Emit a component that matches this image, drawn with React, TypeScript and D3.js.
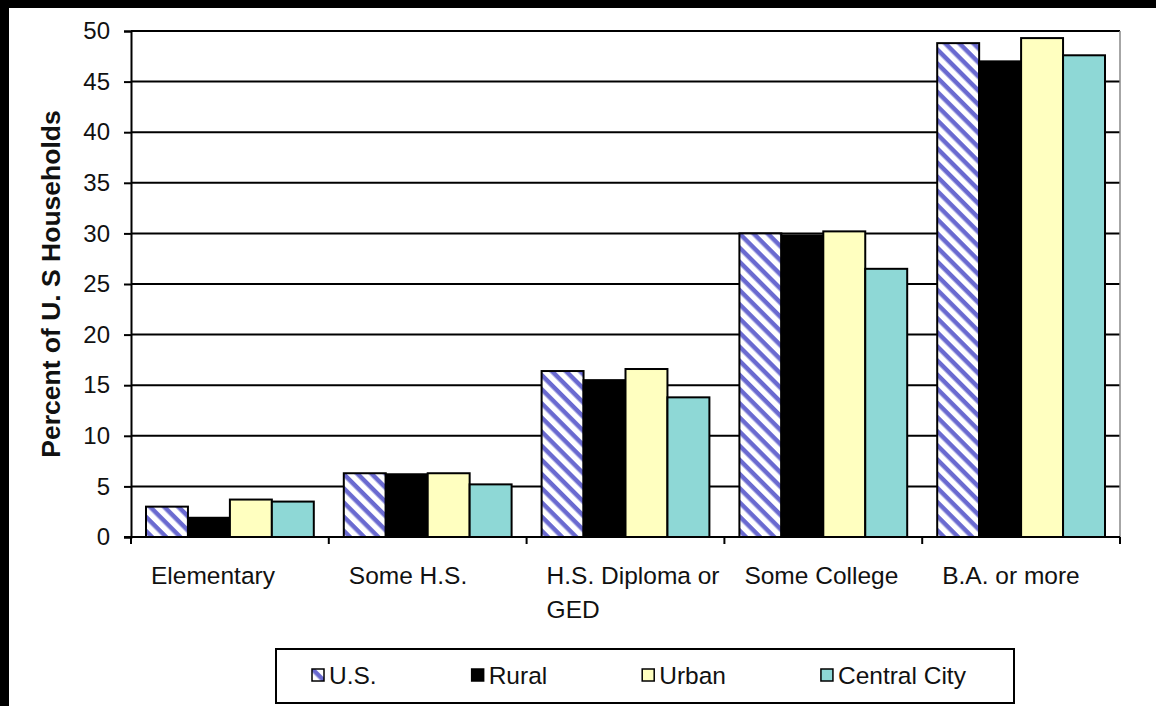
import { useEffect, useRef } from 'react'
import * as d3 from 'd3'

const categories = ['Elementary', 'Some H.S.', 'H.S. Diploma or GED', 'Some College', 'B.A. or more']
const categoryLines = [['Elementary'], ['Some H.S.'], ['H.S. Diploma or', 'GED'], ['Some College'], ['B.A. or more']]
const seriesNames = ['U.S.', 'Rural', 'Urban', 'Central City']
const usValues = [3.0, 6.3, 16.4, 30.0, 48.8]
const ruralValues = [1.9, 6.2, 15.5, 29.8, 47.0]
const urbanValues = [3.7, 6.3, 16.6, 30.2, 49.3]
const centralCityValues = [3.5, 5.2, 13.8, 26.5, 47.6]
const yTicks = [0, 5, 10, 15, 20, 25, 30, 35, 40, 45, 50]

const W = 1156
const H = 706
const FONT = '"Liberation Sans", Arial, sans-serif'

export default function App() {
  const svgRef = useRef<SVGSVGElement>(null)

  useEffect(() => {
    if (!svgRef.current) return
    const svg = d3.select(svgRef.current)
    svg.selectAll('*').remove()

    const seriesValues = [usValues, ruralValues, urbanValues, centralCityValues]
    const fills = ['url(#usHatch)', '#000000', '#ffffc0', '#8ed8d6']

    // frame: white page with black band on top and left
    svg.append('rect').attr('width', W).attr('height', H).attr('fill', '#fff')
    svg.append('rect').attr('width', W).attr('height', 8).attr('fill', '#000')
    svg.append('rect').attr('width', 9).attr('height', H).attr('fill', '#000')

    const defs = svg.append('defs')
    const pat = defs.append('pattern')
      .attr('id', 'usHatch')
      .attr('patternUnits', 'userSpaceOnUse')
      .attr('width', 10).attr('height', 10)
      .attr('patternTransform', 'rotate(45)')
    pat.append('rect').attr('width', 10).attr('height', 10).attr('fill', '#fff')
    pat.append('rect').attr('width', 10).attr('height', 4.5).attr('fill', '#6a6ad0')

    const left = 131, right = 1120, top = 31, bottom = 537
    const x = d3.scaleBand<string>().domain(categories).range([left, right]).padding(0)
    const inner = d3.scaleBand<string>().domain(seriesNames)
      .range([15, x.bandwidth() - 15]).padding(0)
    const y = d3.scaleLinear().domain([0, 50]).range([bottom, top])

    // gridlines
    svg.append('g').selectAll('line').data(yTicks.filter(t => t > 0)).join('line')
      .attr('x1', left).attr('x2', right)
      .attr('y1', d => y(d)).attr('y2', d => y(d))
      .attr('stroke', '#000').attr('stroke-width', 2)

    // plot border (right side)
    svg.append('line').attr('x1', right).attr('x2', right).attr('y1', top).attr('y2', bottom)
      .attr('stroke', '#888').attr('stroke-width', 1.5)

    // bars
    seriesNames.forEach((s, si) => {
      svg.append('g').selectAll('rect').data(seriesValues[si]).join('rect')
        .attr('x', (_, i) => x(categories[i])! + inner(s)!)
        .attr('y', d => y(d))
        .attr('width', inner.bandwidth())
        .attr('height', d => bottom - y(d))
        .attr('fill', fills[si])
        .attr('stroke', '#000').attr('stroke-width', 2)
    })

    // y axis
    const yAxis = svg.append('g').attr('transform', `translate(${left},0)`)
      .call(d3.axisLeft(y).tickValues(yTicks).tickSize(7).tickPadding(14))
    yAxis.select('.domain').attr('stroke', '#000').attr('stroke-width', 2)
    yAxis.selectAll('.tick line').attr('stroke', '#000').attr('stroke-width', 2)
    yAxis.selectAll('.tick text').attr('font-family', FONT).attr('font-size', 24).attr('fill', '#111')

    // x axis
    const xAxisG = svg.append('g')
    xAxisG.append('line').attr('x1', left - 7).attr('x2', right).attr('y1', bottom).attr('y2', bottom)
      .attr('stroke', '#000').attr('stroke-width', 2)
    const boundaries = d3.range(categories.length + 1).map(i => left + i * x.bandwidth())
    xAxisG.selectAll('line.tk').data(boundaries).join('line').attr('class', 'tk')
      .attr('x1', d => d).attr('x2', d => d).attr('y1', bottom).attr('y2', bottom + 7)
      .attr('stroke', '#000').attr('stroke-width', 2)

    categoryLines.forEach((lines, i) => {
      const t = svg.append('text')
        .attr('font-family', FONT).attr('font-size', 24.5).attr('fill', '#111')
        .attr('x', x(categories[i])! + 20).attr('y', 584)
      lines.forEach((ln, li) => {
        t.append('tspan').attr('x', x(categories[i])! + 20).attr('dy', li === 0 ? 0 : 34).text(ln)
      })
    })

    // y axis title
    svg.append('text')
      .attr('transform', `translate(60,${(top + bottom) / 2}) rotate(-90)`)
      .attr('text-anchor', 'middle')
      .attr('font-family', FONT).attr('font-size', 26.5).attr('font-weight', 'bold').attr('fill', '#111')
      .text('Percent of U. S Households')

    // legend
    const lg = svg.append('g')
    lg.append('rect').attr('x', 276).attr('y', 649).attr('width', 738).attr('height', 54)
      .attr('fill', '#fff').attr('stroke', '#000').attr('stroke-width', 2)
    let lx = 312
    seriesNames.forEach((s, si) => {
      lg.append('rect').attr('x', lx).attr('y', 669).attr('width', 12).attr('height', 12)
        .attr('fill', fills[si]).attr('stroke', '#000').attr('stroke-width', 1.5)
      const t = lg.append('text').attr('x', lx + 17).attr('y', 684)
        .attr('font-family', FONT).attr('font-size', 24.5).attr('fill', '#111').text(s)
      const len = (t.node() as SVGTextElement).getComputedTextLength()
      lx += 17 + len + 95
    })
  }, [])

  return (
    <svg ref={svgRef} width={W} height={H}
      style={{ position: 'absolute', left: 0, top: 0, display: 'block' }} />
  )
}
